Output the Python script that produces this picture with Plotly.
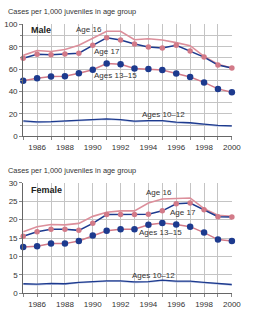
import plotly.graph_objects as go

years = list(range(1985, 2001))

male_age16 = [72.3, 76.7, 75.8, 77.6, 81.3, 87.8, 93.9, 93.9, 86.3, 87.2, 86.0, 83.7, 81.0, 71.4, 64.4, 61.0]
male_age17 = [69.7, 73.2, 72.9, 73.5, 74.3, 81.3, 88.0, 86.0, 82.5, 79.9, 79.0, 81.3, 76.1, 70.8, 63.6, 61.0]
male_13_15 = [49.6, 51.9, 53.4, 53.6, 56.3, 59.5, 65.0, 64.4, 60.6, 60.0, 59.2, 56.0, 53.0, 48.1, 42.3, 39.4]
male_10_12 = [13.7, 12.8, 13.1, 13.7, 14.3, 14.9, 15.5, 14.9, 13.4, 14.0, 14.0, 12.5, 12.0, 10.8, 9.6, 9.3]

female_age16 = [16.7, 18.1, 18.7, 18.6, 19.0, 20.9, 22.0, 22.4, 22.4, 24.5, 25.6, 25.8, 25.9, 23.0, 21.2, 20.9]
female_age17 = [15.5, 16.7, 17.4, 17.4, 17.1, 19.0, 21.4, 21.4, 21.4, 21.5, 22.4, 24.3, 24.5, 22.7, 20.8, 20.7]
female_13_15 = [12.6, 12.8, 13.5, 13.5, 14.2, 15.7, 17.0, 17.4, 17.4, 18.6, 19.1, 18.7, 18.1, 16.5, 14.6, 14.2]
female_10_12 = [2.6, 2.5, 2.7, 2.6, 3.0, 3.3, 3.4, 3.4, 3.1, 3.2, 3.6, 3.3, 3.3, 3.0, 2.6, 2.4]

x_ticks = [1986, 1988, 1990, 1992, 1994, 1996, 1998, 2000]
title_text = "Cases per 1,000 juveniles in age group"

BLUE = "#1d3a8e"
PINK = "#d27a88"
PINK16 = "#dc8f9b"
FONT = "Liberation Sans, Arial, sans-serif"

fig = go.Figure()


def add_panel(xa, ya, age16, age17, a1315, a1012, shadow):
    # Age 16: pink line, no markers
    fig.add_trace(go.Scatter(x=years, y=age16, mode="lines", xaxis=xa, yaxis=ya,
                             line=dict(color=PINK16, width=1.6), cliponaxis=False, showlegend=False))
    # Ages 13-15: pink line, blue dots
    fig.add_trace(go.Scatter(x=years, y=a1315, mode="lines+markers", xaxis=xa, yaxis=ya,
                             line=dict(color=PINK, width=1.5),
                             marker=dict(color=BLUE, size=6.5, line=dict(width=0)),
                             cliponaxis=False, showlegend=False))
    # Age 17: blue line, pink dots
    fig.add_trace(go.Scatter(x=years, y=age17, mode="lines+markers", xaxis=xa, yaxis=ya,
                             line=dict(color=BLUE, width=1.5),
                             marker=dict(color=PINK, size=5.5, line=dict(width=0)),
                             cliponaxis=False, showlegend=False))
    # Ages 10-12: blue line with faint shadow
    fig.add_trace(go.Scatter(x=years, y=[v - shadow for v in a1012],
                             mode="lines", xaxis=xa, yaxis=ya,
                             line=dict(color="#b4c0e0", width=1.4), cliponaxis=False, showlegend=False))
    fig.add_trace(go.Scatter(x=years, y=a1012, mode="lines", xaxis=xa, yaxis=ya,
                             line=dict(color=BLUE, width=1.3), cliponaxis=False, showlegend=False))


add_panel("x", "y", male_age16, male_age17, male_13_15, male_10_12, 0.5)
add_panel("x2", "y2", female_age16, female_age17, female_13_15, female_10_12, 0.15)

W, H = 266, 321
xdom = [24 / W, 240 / W]
GRID = "#c4c4c4"

common_x = dict(range=[1985, 2000], tickvals=x_ticks, ticktext=[str(v) for v in x_ticks],
                showgrid=True, gridcolor=GRID, gridwidth=1,
                showline=True, linecolor="#666666", linewidth=1,
                ticks="outside", ticklen=3, tickcolor="#888888",
                minor=dict(dtick=1, tick0=1985, showgrid=True, gridcolor=GRID,
                           ticks="outside", ticklen=3, tickcolor="#888888"),
                tickfont=dict(family=FONT, size=8, color="#333333"),
                zeroline=False, fixedrange=True, domain=xdom)

common_y = dict(showgrid=True, gridcolor=GRID, gridwidth=1,
                showline=True, linecolor="#666666", linewidth=1,
                ticks="outside", ticklen=3, tickcolor="#888888",
                tickfont=dict(family=FONT, size=8, color="#333333"),
                zeroline=False, fixedrange=True)

fig.update_layout(
    width=W, height=H,
    margin=dict(l=0, r=0, t=0, b=0),
    paper_bgcolor="white", plot_bgcolor="white",
    font=dict(family=FONT, size=8, color="#333333"),
    xaxis=dict(common_x, anchor="y"),
    yaxis=dict(common_y, range=[0, 100], dtick=20, tick0=0,
               minor=dict(dtick=10, showgrid=True, gridcolor=GRID, ticks="outside",
                          ticklen=2, tickcolor="#888888"),
               domain=[1 - 136 / H, 1 - 21 / H], anchor="x"),
    xaxis2=dict(common_x, anchor="y2"),
    yaxis2=dict(common_y, range=[0, 30], dtick=5, tick0=0,
                domain=[1 - 297.7 / H, 1 - 184 / H], anchor="x2"),
)

title_font = dict(family=FONT, size=7.4, color="#333333")
ann_font = dict(family=FONT, size=8, color="#333333")
annotations = [
    dict(text=title_text, xref="paper", yref="paper", x=6 / W, y=1 - 8 / H,
         xanchor="left", yanchor="middle", showarrow=False, font=title_font),
    dict(text=title_text, xref="paper", yref="paper", x=6 / W, y=1 - 171 / H,
         xanchor="left", yanchor="middle", showarrow=False, font=title_font),
    dict(text="<b>Male</b>", xref="x", yref="y", x=1985.45, y=95, xanchor="left",
         yanchor="middle", showarrow=False, font=dict(family=FONT, size=9, color="#222222")),
    dict(text="Age 16", xref="x", yref="y", x=1989.7, y=95.6, showarrow=False, font=ann_font),
    dict(text="Age 17", xref="x", yref="y", x=1991.0, y=75.9, showarrow=False, font=ann_font),
    dict(text="Ages 13–15", xref="x", yref="y", x=1991.65, y=54.5, showarrow=False, font=ann_font),
    dict(text="Ages 10–12", xref="x", yref="y", x=1995.05, y=19.1, showarrow=False, font=ann_font),
    dict(text="<b>Female</b>", xref="x2", yref="y2", x=1985.45, y=28, xanchor="left",
         yanchor="middle", showarrow=False, font=dict(family=FONT, size=9, color="#222222")),
    dict(text="Age 16", xref="x2", yref="y2", x=1994.77, y=27.4, showarrow=False, font=ann_font),
    dict(text="Age 17", xref="x2", yref="y2", x=1996.47, y=22.0, showarrow=False, font=ann_font),
    dict(text="Ages 13–15", xref="x2", yref="y2", x=1994.87, y=16.4, showarrow=False, font=ann_font),
    dict(text="Ages 10–12", xref="x2", yref="y2", x=1994.4, y=4.9, showarrow=False, font=ann_font),
]
fig.update_layout(annotations=annotations)

fig.write_html("out.html", config={"displayModeBar": False})
